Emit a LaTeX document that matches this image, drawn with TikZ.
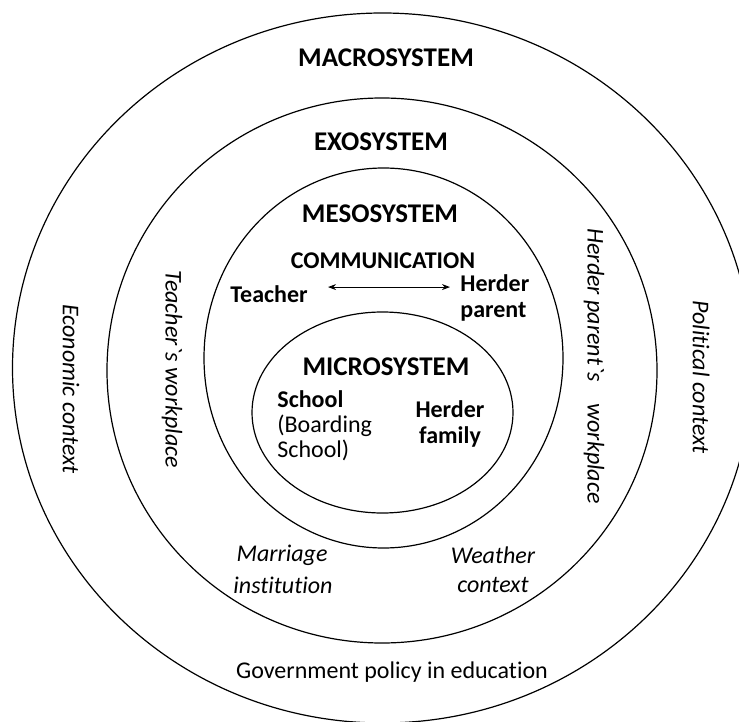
\documentclass[tikz,border=0pt]{standalone}
\usepackage{fontspec}
\setmainfont{Carlito}[Ligatures=CommonOff]
\newfontfamily\lblfont{Carlito}[Ligatures={TeXOff,CommonOff}]
\usetikzlibrary{shapes.geometric,arrows.meta}
\begin{document}
\begin{tikzpicture}[x=0.5pt,y=-0.5pt,
  ring/.style={draw, ellipse, inner sep=0pt, line width=0.6pt},
  head/.style={font=\fontsize{13.5}{15}\selectfont\bfseries, inner sep=0pt, anchor=base},
  bold/.style={font=\fontsize{12}{13}\selectfont\bfseries, inner sep=0pt},
  reg/.style={font=\fontsize{12}{13}\selectfont, inner sep=0pt},
  ital/.style={font=\lblfont\itshape\fontsize{12}{14}\selectfont, inner sep=0pt},
  arr/.style={<->, >={Stealth[length=4pt,width=3pt]}, line width=0.5pt}
]
\useasboundingbox (0,0) rectangle (739,722);
\clip (0,0) rectangle (739,722);

% rings
\node[ring, minimum width=370pt, minimum height=355pt] (macro) at (382.5,368) {};
\node[ring, minimum width=275pt, minimum height=272.5pt] (exo) at (382,370.5) {};
\node[ring, minimum width=179.5pt, minimum height=190pt] (meso) at (383.5,358) {};
\node[ring, minimum width=130.5pt, minimum height=100.5pt] (micro) at (382.5,412.5) {};

% headings
\node[head] (macrot) at (386,67) {MACROSYSTEM};
\node[head] (exot) at (381,150) {EXOSYSTEM};
\node[head] (mesot) at (380,222) {MESOSYSTEM};
\node[bold, anchor=base] (comm) at (383,268) {COMMUNICATION};
\node[head] (microt) at (386,375) {MICROSYSTEM};

% mesosystem
\node[bold, anchor=base] (teacher) at (269,302) {Teacher};
\node[bold, anchor=base west] (herder1) at (460,291) {Herder};
\node[bold, anchor=base west] (herder2) at (460,317) {parent};
\coordinate (arrL) at ([shift={(10pt,3.3pt)}]teacher.east);
\coordinate (arrR) at ([xshift=-5pt]arrL -| herder1.west);
\draw[arr] (arrL) -- (arrR);

% microsystem
\node[bold, anchor=base west] (school1) at (277,407) {School};
\node[reg, anchor=base west] (school2) at (277,432) {(Boarding};
\node[reg, anchor=base west] (school3) at (277,457) {School)};
\node[bold, anchor=base] (family1) at (450,417) {Herder};
\node[bold, anchor=base] (family2) at (450,443) {family};

% exosystem labels
\node[ital, rotate=-90] (tw) at (172,369) {Teacher`s workplace};
\node[ital, rotate=-90] (hw) at (594,366) {Herder parent`s\hspace{11pt}workplace};
\node[ital, anchor=base] (mar1) at (282,561) {Marriage};
\node[ital, anchor=base] (mar2) at (283,593) {institution};
\node[ital, anchor=base] (wea1) at (493,563) {Weather};
\node[ital, anchor=base] (wea2) at (493,592) {context};

% macrosystem labels
\node[ital, rotate=-90] (eco) at (71,389) {Economic context};
\node[ital, rotate=-90] (pol) at (701,377) {Political context};
\node[reg, anchor=base] (gov) at (392,678) {Government policy in education};
\end{tikzpicture}
\end{document}
